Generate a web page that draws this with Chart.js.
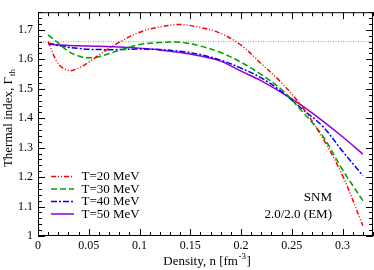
<!DOCTYPE html>
<html>
<head>
<meta charset="utf-8">
<script src="https://cdn.jsdelivr.net/npm/chart.js@4.4.1/dist/chart.umd.min.js"></script>
<style>
  html, body { margin: 0; padding: 0; background: #fff; }
  canvas { display: block; }
</style>
</head>
<body>
<canvas id="gammaChart" width="374" height="270"></canvas>
<script>
// density grid [fm^-3]
const density = [0.01, 0.02, 0.03, 0.04, 0.05, 0.06, 0.08, 0.10, 0.12, 0.14, 0.16, 0.18, 0.20, 0.22, 0.24, 0.26, 0.28, 0.30, 0.32];

// thermal index per temperature
const gammaT20 = [1.660, 1.585, 1.562, 1.570, 1.590, 1.615, 1.658, 1.692, 1.710, 1.718, 1.708, 1.688, 1.648, 1.585, 1.520, 1.440, 1.335, 1.205, 1.035];
const gammaT30 = [1.683, 1.655, 1.627, 1.611, 1.605, 1.609, 1.630, 1.650, 1.657, 1.658, 1.645, 1.623, 1.590, 1.548, 1.497, 1.424, 1.342, 1.225, 1.120];
const gammaT40 = [1.655, 1.647, 1.641, 1.637, 1.634, 1.633, 1.633, 1.635, 1.633, 1.627, 1.616, 1.597, 1.570, 1.537, 1.490, 1.432, 1.374, 1.288, 1.205];
const gammaT50 = [1.651, 1.649, 1.647, 1.646, 1.645, 1.644, 1.642, 1.638, 1.632, 1.623, 1.611, 1.594, 1.560, 1.527, 1.487, 1.443, 1.392, 1.337, 1.278];

const seriesLabels = ['T=20 MeV', 'T=30 MeV', 'T=40 MeV', 'T=50 MeV'];

// horizontal reference (5/3-ish) line
const refX = [0, 0.33];
const refGamma = 1.66;

const xTicks = [0, 0.05, 0.1, 0.15, 0.2, 0.25, 0.3];
const yTicks = [1, 1.1, 1.2, 1.3, 1.4, 1.5, 1.6, 1.7];

const SERIF = '"Liberation Serif", "DejaVu Serif", serif';

function pts(ys) {
    return density.map((n, i) => ({ x: n, y: ys[i] }));
}

const styles = [
    { color: '#ff0000', dash: [5, 2, 1, 2, 1, 2] },
    { color: '#00a000', dash: [6, 3] },
    { color: '#0000ff', dash: [6, 2, 2, 2] },
    { color: '#9400d3', dash: [] }
];

const curves = [gammaT20, gammaT30, gammaT40, gammaT50].map((ys, i) => ({
    label: seriesLabels[i],
    data: pts(ys),
    borderColor: styles[i].color,
    borderDash: styles[i].dash,
    borderWidth: 1.5,
    pointRadius: 0,
    tension: 0.35,
    fill: false
}));

const refLine = {
    label: 'ref',
    data: refX.map(x => ({ x: x, y: refGamma })),
    borderColor: '#9a9a9a',
    borderDash: [1, 1.5],
    borderWidth: 1,
    pointRadius: 0,
    fill: false
};

// frame with inward major/minor ticks on all four sides
const framePlugin = {
    id: 'frame',
    afterDatasetsDraw(chart) {
        const { ctx, chartArea: a, scales } = chart;
        const xs = scales.x, ys = scales.y;
        ctx.save();
        ctx.strokeStyle = '#000';
        ctx.lineWidth = 1;
        ctx.setLineDash([]);
        ctx.strokeRect(a.left + 0.5, a.top + 0.5, a.right - a.left - 1, a.bottom - a.top - 1);
        ctx.beginPath();
        for (let k = 0; k <= 33; k++) {
            const v = k / 100;
            const px = Math.round(xs.getPixelForValue(v)) + 0.5;
            const len = (k % 5 === 0) ? 7 : 4;
            ctx.moveTo(px, a.bottom); ctx.lineTo(px, a.bottom - len);
            ctx.moveTo(px, a.top); ctx.lineTo(px, a.top + len);
        }
        for (let k = 0; k <= 38; k++) {
            const v = 1 + k * 0.02;
            const py = Math.round(ys.getPixelForValue(v)) + 0.5;
            const len = (k % 5 === 0) ? 7 : 4;
            ctx.moveTo(a.left, py); ctx.lineTo(a.left + len, py);
            ctx.moveTo(a.right, py); ctx.lineTo(a.right - len, py);
        }
        ctx.stroke();
        ctx.restore();
    }
};

// legend, annotation text and axis titles (need sub/superscripts)
const textPlugin = {
    id: 'texts',
    afterDraw(chart) {
        const { ctx, chartArea: a } = chart;
        ctx.save();
        ctx.fillStyle = '#000';

        // legend
        chart.data.datasets.slice(0, 4).forEach((ds, i) => {
            const y = 176.5 + i * 12.5;
            ctx.beginPath();
            ctx.strokeStyle = ds.borderColor;
            ctx.lineWidth = 1.5;
            ctx.setLineDash(ds.borderDash);
            ctx.moveTo(a.left + 13, y);
            ctx.lineTo(a.left + 36, y);
            ctx.stroke();
            ctx.setLineDash([]);
            ctx.font = '13px ' + SERIF;
            ctx.textBaseline = 'middle';
            ctx.textAlign = 'left';
            ctx.fillText(ds.label, a.left + 43.5, y + 0.5);
        });

        ctx.font = '13px ' + SERIF;
        ctx.textAlign = 'right';
        ctx.textBaseline = 'alphabetic';
        ctx.fillText('SNM', 332, 201);
        ctx.fillText('2.0/2.0 (EM)', 332, 218);

        // x title
        ctx.textAlign = 'left';
        const big = '13px ' + SERIF, small = '9px ' + SERIF;
        ctx.font = big;
        const p1 = 'Density, n [fm', p3 = ']';
        const w1 = ctx.measureText(p1).width, w3 = ctx.measureText(p3).width;
        ctx.font = small;
        const w2 = ctx.measureText('-3').width;
        let x0 = 207 - (w1 + w2 + w3 + 1) / 2;
        const yb = 265;
        ctx.font = big; ctx.fillText(p1, x0, yb);
        ctx.font = small; ctx.fillText('-3', x0 + w1 + 0.5, yb - 6);
        ctx.font = big; ctx.fillText(p3, x0 + w1 + w2 + 1, yb);

        // y title (rotated)
        ctx.translate(12, 118);
        ctx.rotate(-Math.PI / 2);
        ctx.font = big;
        const q1 = 'Thermal index, \u0393';
        const v1 = ctx.measureText(q1).width;
        ctx.font = small;
        const v2 = ctx.measureText('th').width;
        const s0 = -(v1 + v2 + 1) / 2;
        ctx.font = big; ctx.fillText(q1, s0, 0);
        ctx.font = small; ctx.fillText('th', s0 + v1 + 1, 3);
        ctx.restore();
    }
};

new Chart(document.getElementById('gammaChart').getContext('2d'), {
    type: 'line',
    data: { datasets: [...curves, refLine] },
    options: {
        responsive: false,
        animation: false,
        devicePixelRatio: 1,
        layout: { padding: { top: 1, right: 1, left: 0, bottom: 0 } },
        plugins: { legend: { display: false }, tooltip: { enabled: false } },
        scales: {
            x: {
                type: 'linear', min: 0, max: 0.33,
                afterFit: s => { s.height = 34; },
                afterBuildTicks: s => { s.ticks = xTicks.map(v => ({ value: v })); },
                grid: { display: false, drawTicks: false },
                border: { display: false },
                ticks: {
                    padding: 3, color: '#000', maxRotation: 0, autoSkip: false,
                    font: { family: SERIF, size: 12 },
                    callback: v => String(+v.toFixed(2))
                }
            },
            y: {
                type: 'linear', min: 1, max: 1.76,
                afterFit: s => { s.width = 38; },
                afterBuildTicks: s => { s.ticks = yTicks.map(v => ({ value: v })); },
                grid: { display: false, drawTicks: false },
                border: { display: false },
                ticks: {
                    padding: 5, color: '#000', autoSkip: false,
                    font: { family: SERIF, size: 12 },
                    callback: v => String(+v.toFixed(2))
                }
            }
        }
    },
    plugins: [framePlugin, textPlugin]
});
</script>
</body>
</html>
